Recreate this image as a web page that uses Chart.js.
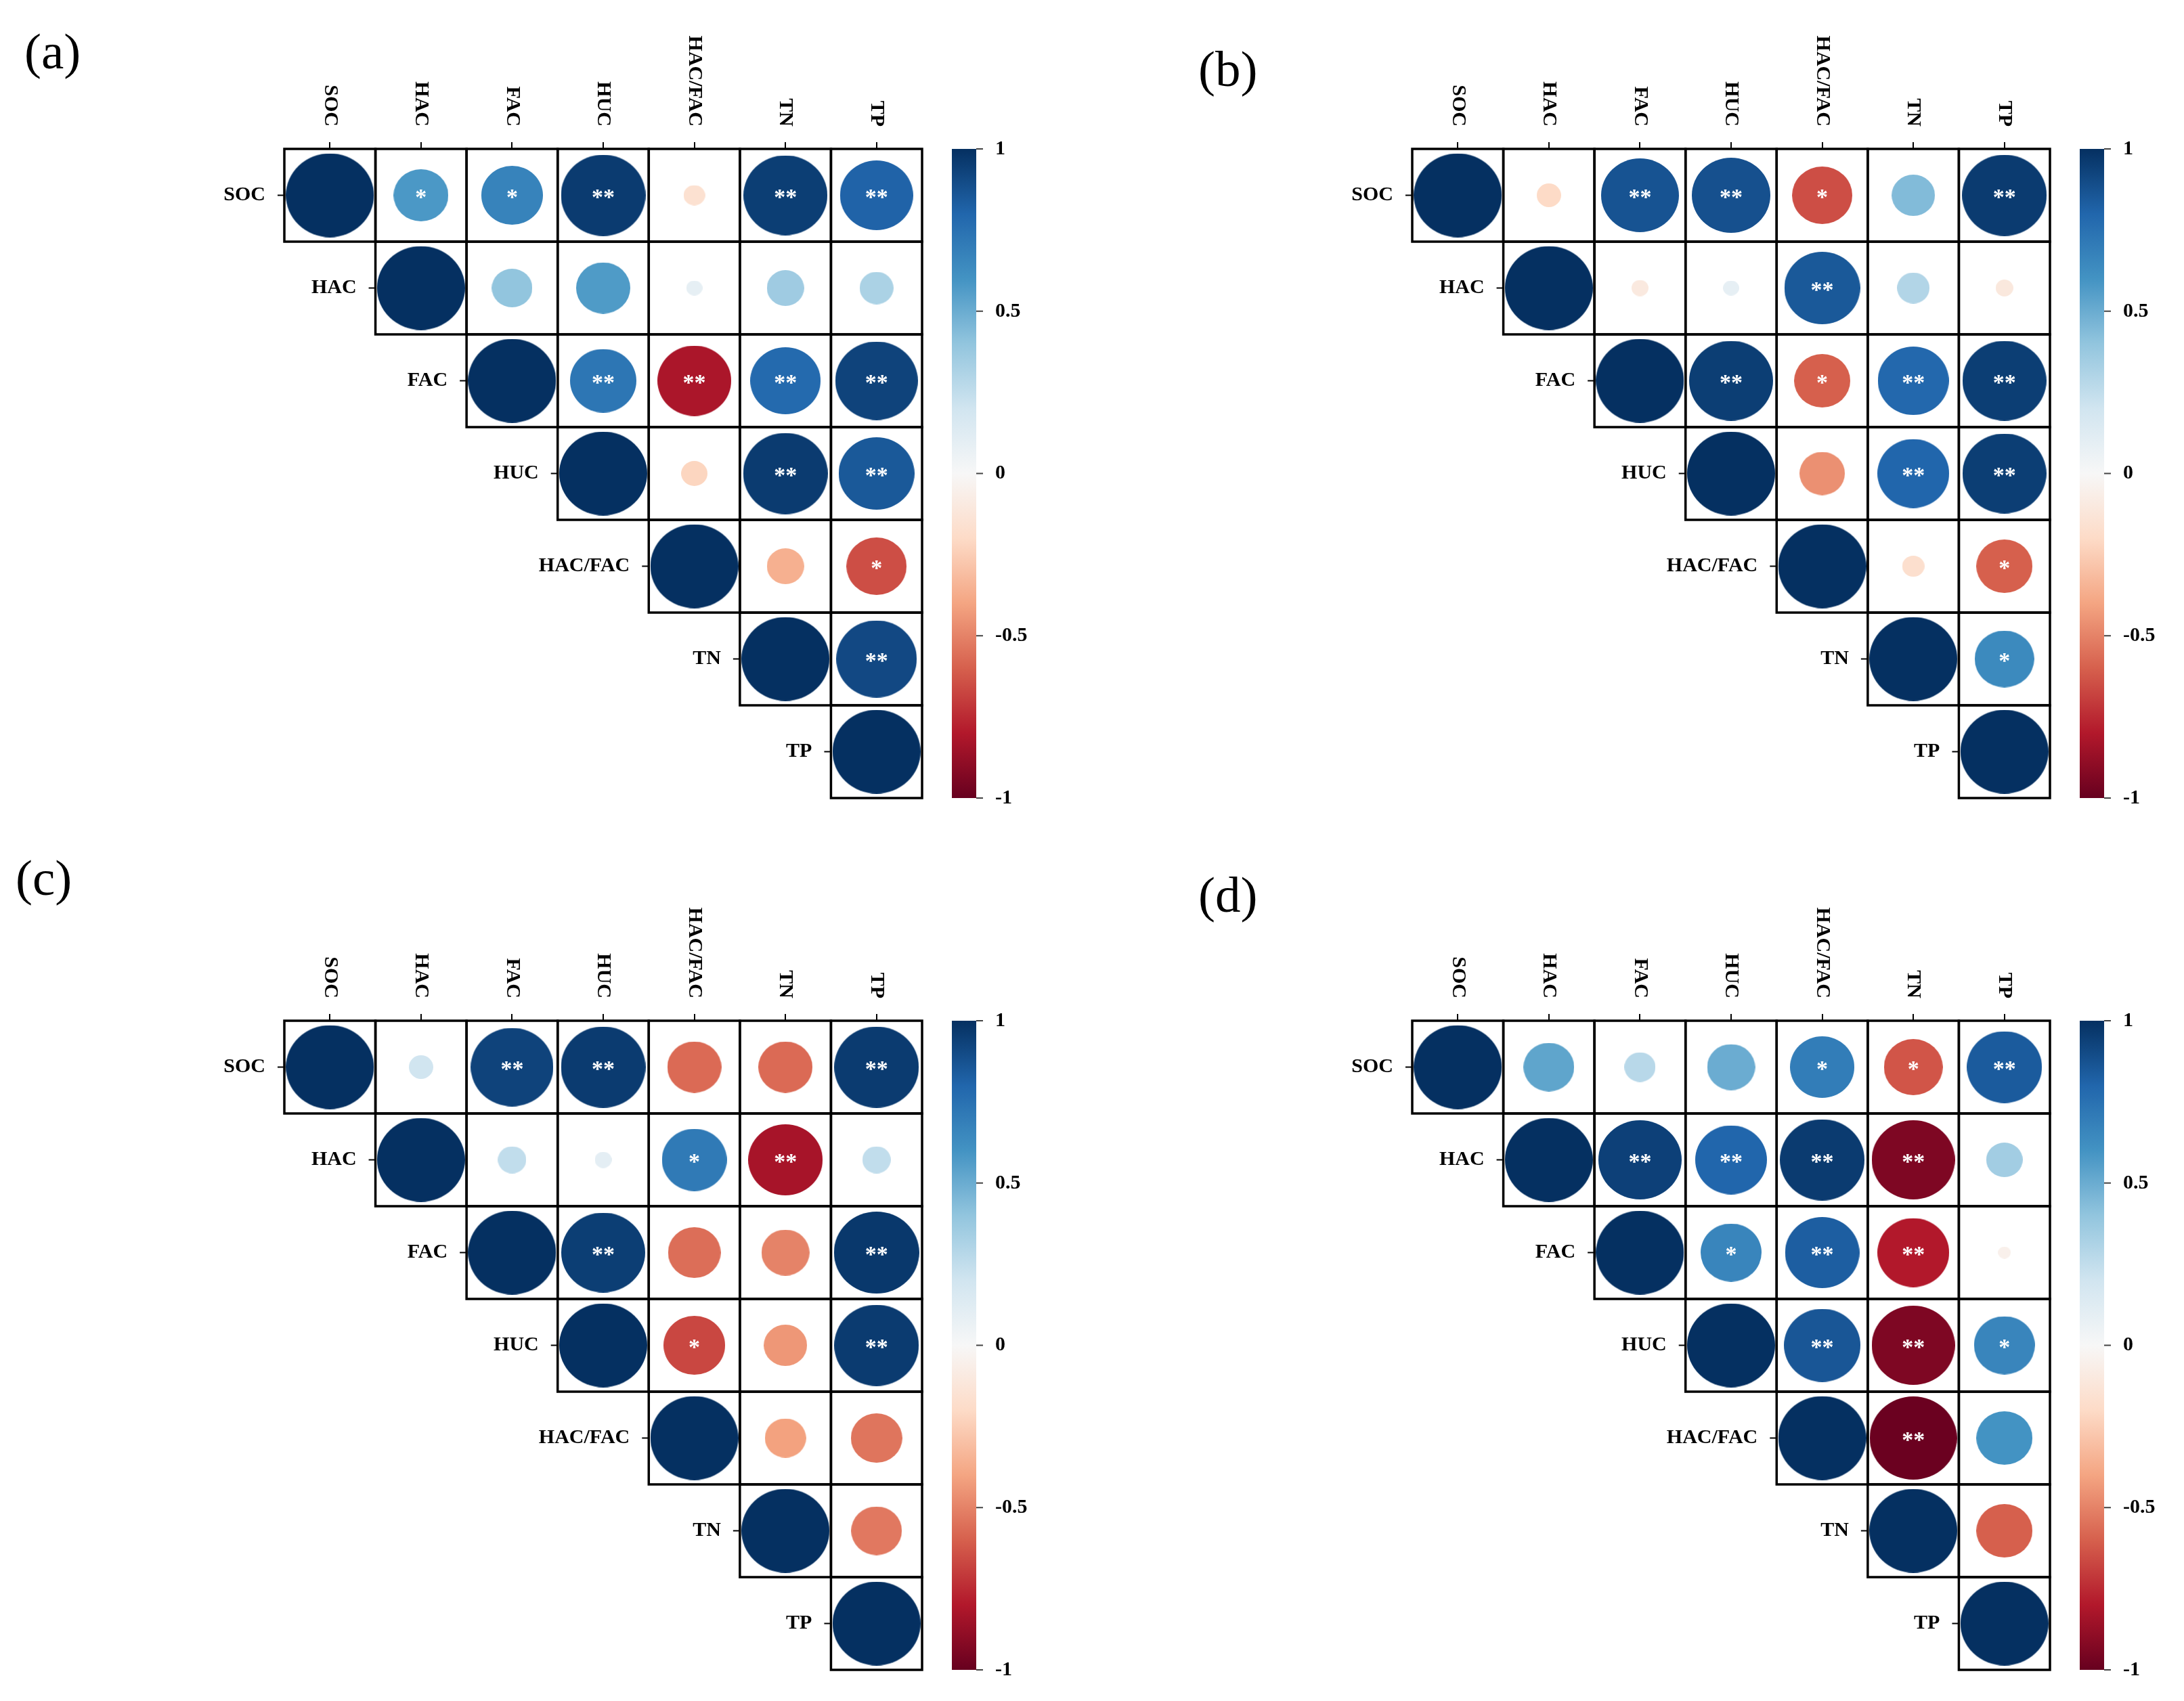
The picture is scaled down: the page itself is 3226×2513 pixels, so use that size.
<!DOCTYPE html>
<html>
<head>
<meta charset="utf-8">
<script src="https://cdn.jsdelivr.net/npm/chart.js@4.4.1/dist/chart.umd.min.js"></script>
<style>
html,body{margin:0;padding:0;background:#fff;}
body{position:relative;width:3226px;height:2513px;overflow:hidden;}
canvas{position:absolute;}
.plabel{position:absolute;font-family:'Liberation Serif','Times New Roman',serif;font-size:75px;line-height:75px;color:#000;white-space:nowrap;}
</style>
</head>
<body>
<canvas id="ca" width="1560" height="1225" style="left:0px;top:0px"></canvas>
<canvas id="cb" width="1560" height="1225" style="left:1666px;top:0px"></canvas>
<canvas id="cc" width="1560" height="1225" style="left:0px;top:1288px"></canvas>
<canvas id="cd" width="1560" height="1225" style="left:1666px;top:1288px"></canvas>
<div class="plabel" id="la" style="left:36px;top:38px"></div>
<div class="plabel" id="lb" style="left:1770px;top:64px"></div>
<div class="plabel" id="lc" style="left:23px;top:1259px"></div>
<div class="plabel" id="ld" style="left:1770px;top:1284px"></div>
<script>
// ---------------- data ----------------
const variables = ['SOC', 'HAC', 'FAC', 'HUC', 'HAC/FAC', 'TN', 'TP'];
const panelLabels = ['(a)', '(b)', '(c)', '(d)'];
const colorbarTicks = [1, 0.5, 0, -0.5, -1];
const colorbarTickLabels = ['1', '0.5', '0', '-0.5', '-1'];
const paletteStops = ['#67001F', '#B2182B', '#D6604D', '#F4A582', '#FDDBC7', '#F7F7F7',
                      '#D1E5F0', '#92C5DE', '#4393C3', '#2166AC', '#053061'];

// upper triangle (diagonal first) of each correlation matrix, row by row
const corrA = [
  [1, 0.58, 0.67, 0.96, -0.16, 0.95, 0.81],
  [1, 0.40, 0.57, 0.09, 0.36, 0.32],
  [1, 0.73, -0.82, 0.78, 0.93],
  [1, -0.22, 0.96, 0.85],
  [1, -0.36, -0.65],
  [1, 0.91],
  [1]
];
const sigA = [
  ['', '*', '*', '**', '', '**', '**'],
  ['', '', '', '', '', ''],
  ['', '**', '**', '**', '**'],
  ['', '', '**', '**'],
  ['', '', '*'],
  ['', '**'],
  ['']
];
const corrB = [
  [1, -0.20, 0.87, 0.88, -0.65, 0.44, 0.96],
  [1, -0.10, 0.09, 0.85, 0.30, -0.11],
  [1, 0.95, -0.60, 0.79, 0.95],
  [1, -0.46, 0.80, 0.95],
  [1, -0.17, -0.60],
  [1, 0.64],
  [1]
];
const sigB = [
  ['', '', '**', '**', '*', '', '**'],
  ['', '', '', '**', '', ''],
  ['', '**', '*', '**', '**'],
  ['', '', '**', '**'],
  ['', '', '*'],
  ['', '*'],
  ['']
];
const corrC = [
  [1, 0.20, 0.93, 0.96, -0.57, -0.57, 0.96],
  [1, 0.25, 0.10, 0.71, -0.83, 0.25],
  [1, 0.95, -0.56, -0.50, 0.97],
  [1, -0.67, -0.44, 0.96],
  [1, -0.41, -0.54],
  [1, -0.53],
  [1]
];
const sigC = [
  ['', '', '**', '**', '', '', '**'],
  ['', '', '', '*', '**', ''],
  ['', '**', '', '', '**'],
  ['', '*', '', '**'],
  ['', '', ''],
  ['', ''],
  ['']
];
const corrD = [
  [1, 0.53, 0.28, 0.50, 0.70, -0.63, 0.84],
  [1, 0.94, 0.80, 0.96, -0.94, 0.35],
  [1, 0.66, 0.83, -0.80, -0.05],
  [1, 0.86, -0.94, 0.66],
  [1, -0.99, 0.60],
  [1, -0.60],
  [1]
];
const sigD = [
  ['', '', '', '', '*', '*', '**'],
  ['', '**', '**', '**', '**', ''],
  ['', '*', '**', '**', ''],
  ['', '**', '**', '*'],
  ['', '**', ''],
  ['', ''],
  ['']
];

// ---------------- helpers ----------------
function hexToRgb(h){ return [parseInt(h.slice(1,3),16), parseInt(h.slice(3,5),16), parseInt(h.slice(5,7),16)]; }
const stopRgb = paletteStops.map(hexToRgb);
function colorFor(v){
  const t = (Math.max(-1, Math.min(1, v)) + 1) / 2 * (stopRgb.length - 1);
  const i = Math.min(Math.floor(t), stopRgb.length - 2);
  const f = t - i;
  const a = stopRgb[i], b = stopRgb[i+1];
  return 'rgb(' + a.map((c,k)=>Math.round(c + (b[k]-c)*f)).join(',') + ')';
}
const styleCache = {};
function ellipseStyle(ctx){
  if (!ctx || !ctx.raw) return 'circle';
  const chart = ctx.chart;
  const xs = chart.scales.x, ys = chart.scales.y;
  const cw = Math.abs(xs.getPixelForValue(1) - xs.getPixelForValue(0));
  const ch = Math.abs(ys.getPixelForValue(1) - ys.getPixelForValue(0));
  const v = ctx.raw.v;
  const f = 0.1 + 0.9 * Math.abs(v);
  const w = Math.max(2, Math.round(cw * 0.965 * f));
  const h = Math.max(2, Math.round(ch * 0.905 * f));
  const key = v + '_' + w + '_' + h;
  if (styleCache[key]) return styleCache[key];
  const c = document.createElement('canvas');
  c.width = w; c.height = h;
  const g = c.getContext('2d');
  g.fillStyle = colorFor(v);
  g.beginPath();
  g.ellipse(w/2, h/2, w/2, h/2, 0, 0, Math.PI*2);
  g.fill();
  styleCache[key] = c;
  return c;
}

const corrPlugin = {
  id: 'corrDecor',
  afterDatasetsDraw(chart){
    const ctx = chart.ctx, area = chart.chartArea;
    const x = chart.scales.x, y = chart.scales.y, cb = chart.scales.cb;
    const pts = chart.data.datasets[0].data;
    const meta = chart.getDatasetMeta(0);
    ctx.save();
    // cell borders
    ctx.strokeStyle = '#000';
    ctx.lineWidth = 3.5;
    pts.forEach(p => {
      const x0 = x.getPixelForValue(p.x - 0.5), x1 = x.getPixelForValue(p.x + 0.5);
      const y0 = y.getPixelForValue(p.y - 0.5), y1 = y.getPixelForValue(p.y + 0.5);
      ctx.strokeRect(x0, y0, x1 - x0, y1 - y0);
    });
    // significance stars
    ctx.fillStyle = '#fff';
    ctx.font = 'bold 34px "Liberation Serif"';
    ctx.textAlign = 'center';
    ctx.textBaseline = 'middle';
    meta.data.forEach((el, k) => {
      const s = pts[k].s;
      if (s) ctx.fillText(s, el.x, el.y + 5);
    });
    // top (column) labels, rotated
    ctx.fillStyle = '#000';
    ctx.font = 'bold 30px "Liberation Serif"';
    ctx.textAlign = 'right';
    ctx.textBaseline = 'middle';
    variables.forEach((name, j) => {
      ctx.save();
      ctx.translate(x.getPixelForValue(j), area.top - 33);
      ctx.rotate(Math.PI / 2);
      ctx.fillText(name, 0, 0);
      ctx.restore();
    });
    // row labels, placed beside each diagonal cell
    ctx.strokeStyle = '#000';
    ctx.lineWidth = 2;
    variables.forEach((name, i) => {
      const cx = x.getPixelForValue(i - 0.5);
      const cy = y.getPixelForValue(i);
      ctx.beginPath();
      ctx.moveTo(cx - 10, cy);
      ctx.lineTo(cx, cy);
      ctx.stroke();
      ctx.fillText(name, cx - 28, cy);
    });
    // colour bar
    const top = cb.getPixelForValue(1), bot = cb.getPixelForValue(-1);
    const bx = area.right + 44, bw = 36;
    const grad = ctx.createLinearGradient(0, top, 0, bot);
    const rev = paletteStops.slice().reverse();
    rev.forEach((c, i) => grad.addColorStop(i / (rev.length - 1), c));
    ctx.fillStyle = grad;
    ctx.fillRect(bx, top, bw, bot - top);
    ctx.strokeStyle = '#444';
    ctx.lineWidth = 2;
    ctx.font = 'bold 30px "Liberation Serif"';
    ctx.textAlign = 'left';
    ctx.textBaseline = 'middle';
    colorbarTicks.forEach((v, i) => {
      const py = cb.getPixelForValue(v);
      ctx.beginPath();
      ctx.moveTo(bx + bw, py);
      ctx.lineTo(bx + bw + 10, py);
      ctx.stroke();
      ctx.fillStyle = '#000';
      ctx.fillText(colorbarTickLabels[i], bx + bw + 28, py);
    });
    ctx.restore();
  }
};

function makePanel(canvasId, corr, sig){
  const points = [];
  corr.forEach((row, i) => row.forEach((v, k) => points.push({x: i + k, y: i, v: v, s: sig[i][k]})));
  const tickIdx = variables.map((_, i) => ({value: i}));
  return new Chart(document.getElementById(canvasId), {
    type: 'scatter',
    data: {datasets: [{data: points, pointStyle: ellipseStyle, pointRadius: 1, pointHoverRadius: 1, pointBorderWidth: 0}]},
    options: {
      responsive: false,
      animation: false,
      devicePixelRatio: 1,
      events: [],
      layout: {padding: {left: 0, top: 0, right: 198, bottom: 46}},
      plugins: {legend: {display: false}, tooltip: {enabled: false}},
      scales: {
        x: {
          type: 'linear', position: 'top', min: -0.5, max: 6.5,
          ticks: {display: false, stepSize: 1},
          afterBuildTicks: s => { s.ticks = tickIdx.map(t => ({value: t.value})); },
          afterFit: s => { s.height = 220; },
          grid: {drawOnChartArea: false, drawTicks: true, tickLength: 10, color: '#000', lineWidth: 2},
          border: {display: false}
        },
        y: {
          type: 'linear', position: 'left', reverse: true, min: -0.5, max: 6.5,
          ticks: {display: false, stepSize: 1},
          afterBuildTicks: s => { s.ticks = tickIdx.map(t => ({value: t.value})); },
          afterFit: s => { s.width = 420; },
          grid: {display: false},
          border: {display: false}
        },
        cb: {type: 'linear', position: 'right', min: -1, max: 1, display: false}
      }
    },
    plugins: [corrPlugin]
  });
}

['la', 'lb', 'lc', 'ld'].forEach((id, i) => { document.getElementById(id).textContent = panelLabels[i]; });
makePanel('ca', corrA, sigA);
makePanel('cb', corrB, sigB);
makePanel('cc', corrC, sigC);
makePanel('cd', corrD, sigD);
</script>
</body>
</html>
